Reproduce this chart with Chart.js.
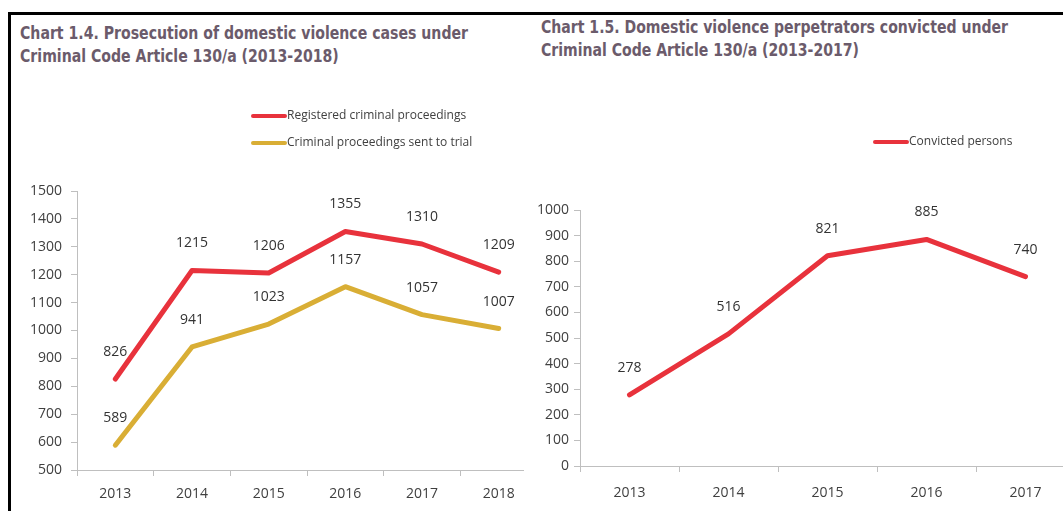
<!DOCTYPE html>
<html><head><meta charset="utf-8">
<script src="https://cdn.jsdelivr.net/npm/chart.js@4.4.1/dist/chart.umd.min.js"></script>
<style>
html,body{margin:0;padding:0;width:1063px;height:511px;overflow:hidden;background:#fff;}
.frame{position:absolute;left:8px;top:12px;width:1100px;height:600px;border-top:3px solid #000;border-left:3px solid #000;box-sizing:border-box;}
.title{position:absolute;font-family:"DejaVu Sans Condensed","DejaVu Sans",sans-serif;font-weight:bold;font-size:17px;color:#6b5b6b;line-height:23px;white-space:nowrap;transform-origin:0 0;}
.wrap{position:absolute;top:0;overflow:hidden;height:511px;}
canvas{display:block;}
</style></head><body>
<div class="frame"></div>
<div class="title" id="t1" data-w="448" style="left:20px;top:22px;">Chart 1.4. Prosecution of domestic violence cases under<br>Criminal Code Article 130/a (2013-2018)</div>
<div class="title" id="t2" data-w="467" style="left:541px;top:16px;">Chart 1.5. Domestic violence perpetrators convicted under<br>Criminal Code Article 130/a (2013-2017)</div>
<div class="wrap" style="left:0;width:524px;"><canvas id="c1" width="545" height="511"></canvas></div>
<div class="wrap" style="left:530px;width:555px;"><canvas id="c2" width="555" height="511"></canvas></div>
<script>
const years1 = ['2013','2014','2015','2016','2017','2018'];
const registered = [826,1215,1206,1355,1310,1209];
const sentToTrial = [589,941,1023,1157,1057,1007];
const years2 = ['2013','2014','2015','2016','2017'];
const convicted = [278,516,821,885,740];
const y1Range = {min:500, max:1500, step:100};
const y2Range = {min:0, max:1000, step:100};

// fit titles to the reference width
document.querySelectorAll('.title').forEach(el=>{
  const w = el.getBoundingClientRect().width;
  const target = +el.dataset.w;
  el.style.transform = 'scaleX(' + (target / w) + ')';
});

const RED = '#e8323c';
const GOLD = '#d9ae35';
const AXIS = '#bfbfbf';
const TXT = '#404040';
const tickFont = {family:'"Open Sans", sans-serif', size:14};

const valueLabels = {
  id:'valueLabels',
  afterDatasetsDraw(chart){
    const ctx = chart.ctx;
    ctx.save();
    ctx.font = '14px "Open Sans", sans-serif';
    ctx.fillStyle = '#333';
    ctx.textAlign = 'center';
    ctx.textBaseline = 'middle';
    chart.data.datasets.forEach((ds,i)=>{
      const meta = chart.getDatasetMeta(i);
      meta.data.forEach((p,j)=>{
        ctx.fillText(String(ds.data[j]), p.x, p.y - 27);
      });
    });
    ctx.restore();
  }
};

const lineLegend = {
  id:'lineLegend',
  afterDraw(chart, args, opts){
    const ctx = chart.ctx;
    ctx.save();
    ctx.font = '12px "Open Sans", sans-serif';
    ctx.textBaseline = 'middle';
    ctx.textAlign = 'left';
    chart.data.datasets.forEach((ds,i)=>{
      const y = opts.y + i*opts.gap;
      ctx.strokeStyle = ds.borderColor;
      ctx.lineWidth = 4;
      ctx.lineCap = 'round';
      ctx.beginPath();
      ctx.moveTo(opts.x, y);
      ctx.lineTo(opts.x + opts.len, y);
      ctx.stroke();
      ctx.fillStyle = TXT;
      ctx.fillText(ds.label, opts.x + opts.len + 2, y);
    });
    ctx.restore();
  }
};

function makeScales(range, yWidth, xHeight, yPad, xPad){
  return {
    x:{
      type:'category', offset:true,
      grid:{offset:true, drawOnChartArea:false, tickLength:6, color:AXIS},
      border:{color:AXIS, width:1},
      ticks:{font:tickFont, color:TXT, padding:xPad, maxRotation:0, autoSkip:false},
      afterFit(s){ s.height = xHeight; }
    },
    y:{
      min:range.min, max:range.max,
      grid:{drawOnChartArea:false, tickLength:6, color:AXIS},
      border:{color:AXIS, width:1},
      ticks:{stepSize:range.step, font:tickFont, color:TXT, padding:yPad, callback:(v)=>String(v)},
      afterFit(s){ s.width = yWidth; }
    }
  };
}

const lineStyle = {borderWidth:5, pointRadius:0, pointHoverRadius:0, tension:0, fill:false, borderCapStyle:'round', borderJoinStyle:'round'};

new Chart(document.getElementById('c1'), {
  type:'line',
  data:{labels:years1, datasets:[
    Object.assign({label:'Registered criminal proceedings', data:registered, borderColor:RED, backgroundColor:RED}, lineStyle),
    Object.assign({label:'Criminal proceedings sent to trial', data:sentToTrial, borderColor:GOLD, backgroundColor:GOLD}, lineStyle)
  ]},
  options:{
    responsive:false, animation:false, devicePixelRatio:1,
    layout:{padding:{left:0, right:8, top:191, bottom:0}},
    plugins:{legend:{display:false}, tooltip:{enabled:false}, lineLegend:{x:253, y:116, gap:27, len:32}},
    scales:makeScales(y1Range, 77, 41, 9, 10)
  },
  plugins:[valueLabels, lineLegend]
});

new Chart(document.getElementById('c2'), {
  type:'line',
  data:{labels:years2, datasets:[
    Object.assign({label:'Convicted persons', data:convicted, borderColor:RED, backgroundColor:RED}, lineStyle)
  ]},
  options:{
    responsive:false, animation:false, devicePixelRatio:1,
    layout:{padding:{left:0, right:10, top:210, bottom:0}},
    plugins:{legend:{display:false}, tooltip:{enabled:false}, lineLegend:{x:345, y:142, gap:27, len:32}},
    scales:makeScales(y2Range, 50, 45, 5, 13)
  },
  plugins:[valueLabels, lineLegend]
});
</script>
</body></html>
